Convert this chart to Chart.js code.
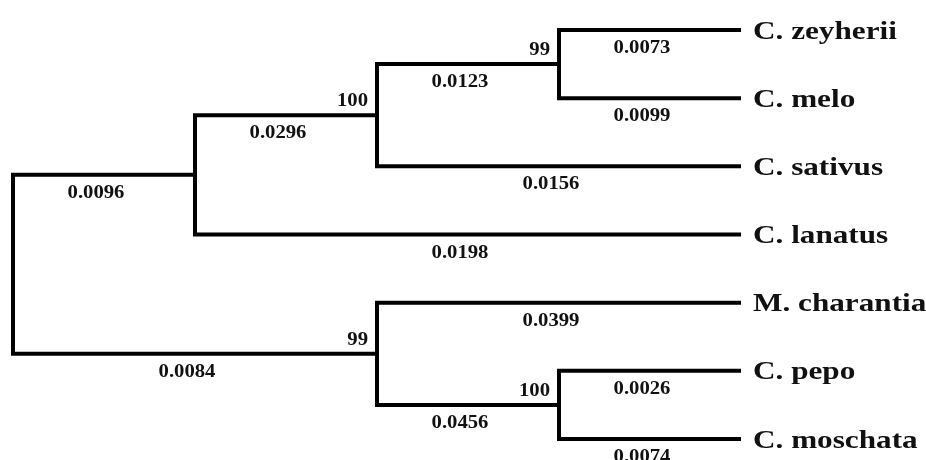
<!DOCTYPE html>
<html>
<head>
<meta charset="utf-8">
<script src="https://cdn.jsdelivr.net/npm/chart.js@4.4.1/dist/chart.umd.min.js"></script>
<style>
  html, body { margin: 0; padding: 0; background: #ffffff; }
  #wrap { width: 926px; height: 460px; position: relative; }
</style>
</head>
<body>
<div id="wrap"><canvas id="c"></canvas></div>
<script>
// ---- Tree data ----
const taxa = ['C. zeyherii', 'C. melo', 'C. sativus', 'C. lanatus', 'M. charantia', 'C. pepo', 'C. moschata'];
const leafLevel = 4;
const nodes = ['root', 'n1', 'n2', 'n3', 'n4', 'n5'];
const nodeLevel = [0, 1, 2, 3, 2, 3];
const nodeChildren = [
  ['n1', 'n4'],
  ['n2', 'C. lanatus'],
  ['n3', 'C. sativus'],
  ['C. zeyherii', 'C. melo'],
  ['M. charantia', 'n5'],
  ['C. pepo', 'C. moschata']
];
const branchChild = ['n1', 'n2', 'n3', 'C. zeyherii', 'C. melo', 'C. sativus', 'C. lanatus', 'n4', 'M. charantia', 'n5', 'C. pepo', 'C. moschata'];
const branchLength = ['0.0096', '0.0296', '0.0123', '0.0073', '0.0099', '0.0156', '0.0198', '0.0084', '0.0399', '0.0456', '0.0026', '0.0074'];
const supportNode = ['n2', 'n3', 'n4', 'n5'];
const supportValue = ['100', '99', '99', '100'];

// ---- Derived node coordinates (data units) ----
const pos = {};
taxa.forEach((t, i) => { pos[t] = { x: leafLevel, y: i }; });
function place(name) {
  if (pos[name]) return pos[name];
  const k = nodes.indexOf(name);
  const ch = nodeChildren[k].map(place);
  pos[name] = { x: nodeLevel[k], y: (ch[0].y + ch[1].y) / 2 };
  return pos[name];
}
place('root');
const parentOf = {};
nodes.forEach((n, k) => nodeChildren[k].forEach(c => { parentOf[c] = n; }));

const datasets = nodes.map((n, k) => {
  const p = pos[n];
  const a = pos[nodeChildren[k][0]];
  const b = pos[nodeChildren[k][1]];
  return {
    data: [{ x: a.x, y: a.y }, { x: p.x, y: a.y }, { x: p.x, y: b.y }, { x: b.x, y: b.y }],
    showLine: true,
    borderColor: '#000000',
    borderWidth: 4,
    borderJoinStyle: 'miter',
    borderCapStyle: 'butt',
    pointRadius: 0,
    tension: 0,
    fill: false,
    clip: false
  };
});

function stretchedText(ctx, text, x, y, font, sx, align) {
  ctx.save();
  ctx.font = font;
  ctx.textAlign = align;
  ctx.textBaseline = 'alphabetic';
  ctx.translate(x, y);
  ctx.scale(sx, 1);
  ctx.fillText(text, 0, 0);
  ctx.restore();
}

const labelPlugin = {
  id: 'treeLabels',
  afterDatasetsDraw(chart) {
    const ctx = chart.ctx;
    const xs = chart.scales.x, ys = chart.scales.y;
    ctx.fillStyle = '#111111';
    const big = 'bold 26px "Liberation Serif", "Times New Roman", serif';
    const small = 'bold 18px "Liberation Serif", "Times New Roman", serif';
    taxa.forEach(t => {
      const px = xs.getPixelForValue(pos[t].x) + 12;
      const py = ys.getPixelForValue(pos[t].y) + 8.5;
      stretchedText(ctx, t, px, py, big, 1.2, 'left');
    });
    branchChild.forEach((c, i) => {
      const p = pos[parentOf[c]], q = pos[c];
      const x0 = xs.getPixelForValue(p.x), x1 = xs.getPixelForValue(q.x);
      const py = ys.getPixelForValue(q.y) + 23;
      stretchedText(ctx, branchLength[i], (x0 + x1) / 2 - 8, py, small, 1.15, 'center');
    });
    supportNode.forEach((n, i) => {
      const px = xs.getPixelForValue(pos[n].x) - 9;
      const py = ys.getPixelForValue(pos[n].y) - 9;
      stretchedText(ctx, supportValue[i], px, py, small, 1.15, 'right');
    });
  }
};

new Chart(document.getElementById('c'), {
  type: 'scatter',
  data: { datasets },
  options: {
    responsive: true,
    maintainAspectRatio: false,
    animation: false,
    layout: { padding: { left: 13, right: 185, top: 30, bottom: 21 } },
    plugins: { legend: { display: false }, tooltip: { enabled: false } },
    scales: {
      x: { type: 'linear', min: 0, max: leafLevel, display: false },
      y: { type: 'linear', min: 0, max: taxa.length - 1, reverse: true, display: false }
    }
  },
  plugins: [labelPlugin]
});
</script>
</body>
</html>
